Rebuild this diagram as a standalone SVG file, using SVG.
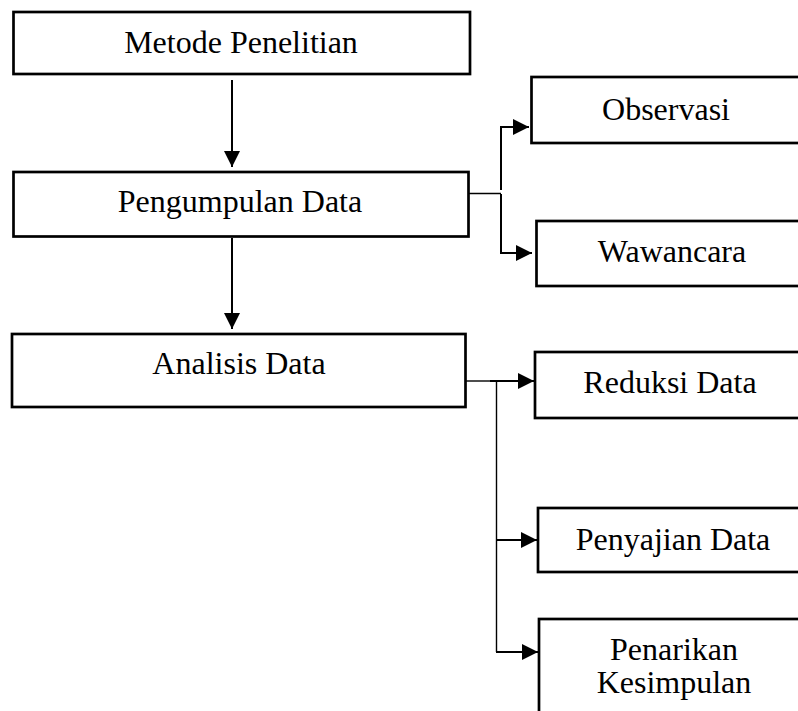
<svg xmlns="http://www.w3.org/2000/svg" width="798" height="711" viewBox="0 0 798 711">
<defs>
<style>
.box{fill:#fff;stroke:#000;stroke-width:2.7}
.t{font-family:"Liberation Serif","Times New Roman",serif;font-size:32px;fill:#000;text-anchor:middle}
.c{fill:none;stroke:#000;stroke-width:2}
.thin{fill:none;stroke:#000;stroke-width:1.4}
</style>
<marker id="ah" viewBox="0 0 16 16" refX="16" refY="8" markerWidth="16" markerHeight="16" markerUnits="userSpaceOnUse" orient="auto">
<path d="M0,0 L16,8 L0,16 Z" fill="#000"/>
</marker>
</defs>
<rect width="798" height="711" fill="#fff"/>
<g id="connectors">
<line class="c" x1="232" y1="80" x2="232" y2="167" marker-end="url(#ah)"/>
<line class="c" x1="232" y1="238" x2="232" y2="329" marker-end="url(#ah)"/>
<line class="thin" x1="468" y1="193.5" x2="501" y2="193.5"/>
<polyline class="c" points="501,190 501,127 529,127" marker-end="url(#ah)"/>
<polyline class="c" points="501,194 501,253 532,253" marker-end="url(#ah)"/>
<line class="thin" x1="466" y1="381" x2="491" y2="381"/>
<line class="c" x1="490" y1="381" x2="534" y2="381" marker-end="url(#ah)"/>
<line class="thin" x1="496.5" y1="381" x2="496.5" y2="652"/>
<line class="c" x1="496" y1="540" x2="537" y2="540" marker-end="url(#ah)"/>
<line class="c" x1="496" y1="652" x2="538" y2="652" marker-end="url(#ah)"/>
</g>
<g id="metode">
<rect class="box" x="13.5" y="12" width="456.5" height="62"/>
<text class="t" x="241" y="53">Metode Penelitian</text>
</g>
<g id="pengumpulan">
<rect class="box" x="13.5" y="172" width="455" height="64.5"/>
<text class="t" x="240" y="212">Pengumpulan Data</text>
</g>
<g id="analisis">
<rect class="box" x="12" y="334" width="453.5" height="73"/>
<text class="t" x="239" y="374">Analisis Data</text>
</g>
<g id="observasi">
<rect class="box" x="531.5" y="77" width="290" height="66"/>
<text class="t" x="666" y="120">Observasi</text>
</g>
<g id="wawancara">
<rect class="box" x="536.5" y="221" width="290" height="65"/>
<text class="t" x="672" y="262">Wawancara</text>
</g>
<g id="reduksi">
<rect class="box" x="535" y="352" width="290" height="66"/>
<text class="t" x="670" y="393">Reduksi Data</text>
</g>
<g id="penyajian">
<rect class="box" x="538" y="508" width="290" height="64"/>
<text class="t" x="673" y="550">Penyajian Data</text>
</g>
<g id="penarikan">
<rect class="box" x="539" y="619" width="290" height="110"/>
<text class="t" x="674" y="660">Penarikan</text>
<text class="t" x="674" y="693">Kesimpulan</text>
</g>
</svg>
